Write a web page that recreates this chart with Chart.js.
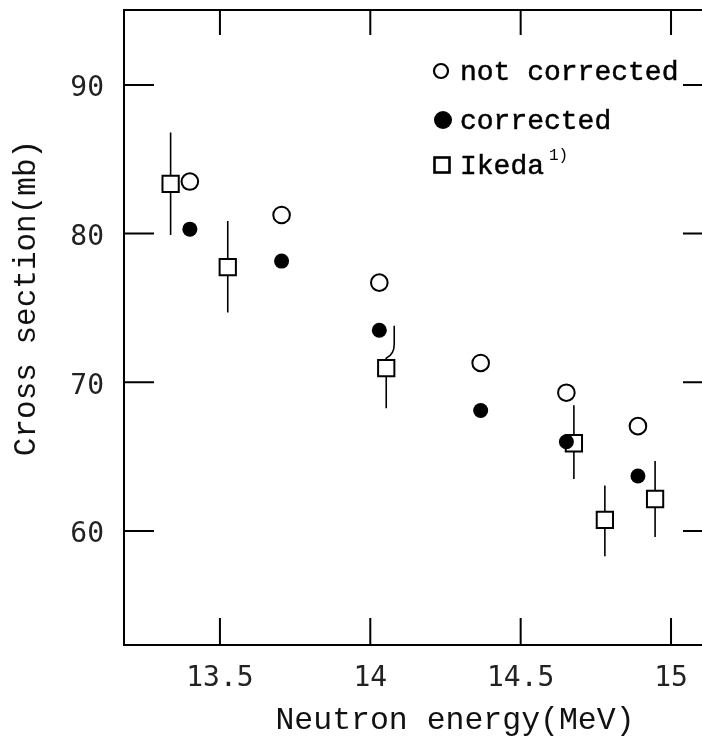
<!DOCTYPE html>
<html>
<head>
<meta charset="utf-8">
<script src="https://cdn.jsdelivr.net/npm/chart.js@4.4.1/dist/chart.umd.min.js"></script>
<style>
    * {
        margin: 0;
        padding: 0;
    }

    body {
        background: #fff;
        width: 702px;
        height: 746px;
        overflow: hidden;
    }

    #wrap {
        width: 702px;
        height: 746px;
    }
</style>
</head>
<body>
<div id="wrap"><canvas id="xsChart"></canvas></div>
<script>
//  D A T A  //
// this work: neutron energy (MeV) and cross section (mb)
const energies = [13.40, 13.705, 14.03, 14.367, 14.652, 14.89];
const notCorrected = [83.5, 81.25, 76.7, 71.3, 69.3, 67.05];
const corrected = [80.3, 78.15, 73.5, 68.1, 66.0, 63.7];

// Ikeda values with error bar ends
const ikedaEnergies = [13.336, 13.526, 14.053, 14.677, 14.78, 14.947];
const ikedaValues = [83.35, 77.75, 70.95, 65.9, 60.75, 62.15];
const ikedaLow = [79.9, 74.7, 68.25, 63.5, 58.3, 59.6];
const ikedaHigh = [86.8, 80.85, 73.8, 68.45, 63.05, 64.7];
// the upper bar of the third point is drawn bent off to the side
const ikedaBend = [0, 0, 8, 0, 0, 0];

const xTicks = [13.5, 14, 14.5, 15];
const yTicks = [60, 70, 80, 90];

const xTitle = "Neutron energy(MeV)";
const yTitle = "Cross section(mb)";

const legendRows = [
    { label: "not corrected", sup: "" },
    { label: "corrected", sup: "" },
    { label: "Ikeda", sup: "1)" }
];


const monoSerif = "'Liberation Mono', 'Courier New', monospace";
const tickFont = { family: "'DejaVu Sans Mono', monospace", size: 28, lineHeight: 1.2 };


//  P O I N T   H E L P E R S  //
const toPoints = (xs, ys) => xs.map((x, i) => ({ x: x, y: ys[i] }));

// keep the plot box exactly where it belongs, no label padding
function fixBox(size) {
    return s => {
        if (s.isHorizontal()) s.height = size; else s.width = size;
        s.paddingTop = 0;
        s.paddingBottom = 0;
        s.paddingLeft = 0;
        s.paddingRight = 0;
    };
}


//  F R A M E ,  T I C K S ,  E R R O R   B A R S  //
const framePlugin = {
    id: "frame",
    beforeDatasetsDraw(chart) {
        const { ctx, chartArea: a, scales } = chart;
        const sx = scales.x, sy = scales.y;
        ctx.save();
        ctx.strokeStyle = "#000";
        ctx.lineWidth = 2;
        ctx.lineCap = "butt";

        // box: top, left, bottom
        ctx.beginPath();
        ctx.moveTo(a.right, a.top);
        ctx.lineTo(a.left, a.top);
        ctx.lineTo(a.left, a.bottom);
        ctx.lineTo(a.right, a.bottom);
        ctx.stroke();

        // inward ticks
        ctx.beginPath();
        xTicks.forEach(v => {
            const px = sx.getPixelForValue(v);
            ctx.moveTo(px, a.bottom);
            ctx.lineTo(px, a.bottom - 27);
            ctx.moveTo(px, a.top);
            ctx.lineTo(px, a.top + 25);
        });
        yTicks.forEach(v => {
            const py = sy.getPixelForValue(v);
            ctx.moveTo(a.left, py);
            ctx.lineTo(a.left + 30, py);
            ctx.moveTo(a.right, py);
            ctx.lineTo(a.right - 19, py);
        });
        ctx.stroke();

        // Ikeda error bars
        ctx.lineWidth = 1.6;
        ctx.beginPath();
        ikedaEnergies.forEach((e, i) => {
            const px = sx.getPixelForValue(e);
            const pyMid = sy.getPixelForValue(ikedaValues[i]);
            const pyLo = sy.getPixelForValue(ikedaLow[i]);
            const pyHi = sy.getPixelForValue(ikedaHigh[i]);
            ctx.moveTo(px, pyLo);
            ctx.lineTo(px, pyMid);
            if (ikedaBend[i]) {
                const bx = px + ikedaBend[i];
                ctx.lineTo(px, pyMid - 10);
                ctx.quadraticCurveTo(bx, pyMid - 14, bx, pyMid - 24);
                ctx.lineTo(bx, pyHi);
            } else {
                ctx.lineTo(px, pyHi);
            }
        });
        ctx.stroke();
        ctx.restore();
    }
};


//  A X I S   T I T L E S  //
// drawn by hand: both sit a little off the centre of their axis
const titlePlugin = {
    id: "axisTitles",
    afterDraw(chart) {
        const { ctx } = chart;
        ctx.save();
        ctx.fillStyle = "#111";
        ctx.textAlign = "center";
        ctx.textBaseline = "middle";

        ctx.font = "31.5px " + monoSerif;
        ctx.fillText(xTitle, 455, 721);

        ctx.translate(27, 298);
        ctx.rotate(-Math.PI / 2);
        ctx.font = "31px " + monoSerif;
        ctx.fillText(yTitle, 0, 0);
        ctx.restore();
    }
};


//  L E G E N D   I N S I D E   T H E   B O X  //
const legendPlugin = {
    id: "innerLegend",
    afterDraw(chart) {
        const { ctx } = chart;
        const markerX = 441;
        const textX = 460;
        const rows = [71, 120, 165];
        ctx.save();
        ctx.strokeStyle = "#000";
        ctx.fillStyle = "#000";
        ctx.lineWidth = 2.2;

        // open circle
        ctx.beginPath();
        ctx.arc(markerX, rows[0], 7, 0, Math.PI * 2);
        ctx.stroke();

        // filled circle
        ctx.beginPath();
        ctx.arc(markerX + 2, rows[1], 9, 0, Math.PI * 2);
        ctx.fill();

        // square
        ctx.lineWidth = 2.6;
        ctx.strokeRect(markerX - 6.5, rows[2] - 7.5, 15, 15);

        ctx.font = "28px " + monoSerif;
        ctx.textBaseline = "alphabetic";
        ctx.textAlign = "left";
        ctx.lineWidth = 0.5;
        legendRows.forEach((row, i) => {
            const base = rows[i] + 9;
            ctx.fillText(row.label, textX, base);
            ctx.strokeText(row.label, textX, base);
            if (row.sup) {
                const w = ctx.measureText(row.label).width;
                ctx.save();
                ctx.font = "16px " + monoSerif;
                ctx.fillText(row.sup, textX + w + 5, base - 14);
                ctx.restore();
            }
        });
        ctx.restore();
    }
};


//  C H A R T  //
const ctx = document.getElementById("xsChart").getContext("2d");

new Chart(ctx, {
    type: "scatter",
    data: {
        datasets: [
            {
                label: "corrected",
                data: toPoints(energies, corrected),
                pointStyle: "circle",
                pointRadius: 7.5,
                pointBorderWidth: 0,
                backgroundColor: "#000",
                borderColor: "#000"
            },
            {
                label: "not corrected",
                data: toPoints(energies, notCorrected),
                pointStyle: "circle",
                pointRadius: 8.3,
                pointBorderWidth: 2,
                backgroundColor: "#fff",
                borderColor: "#000"
            },
            {
                label: "Ikeda",
                data: toPoints(ikedaEnergies, ikedaValues),
                pointStyle: "rect",
                pointRadius: 11.5,
                pointBorderWidth: 2,
                backgroundColor: "#fff",
                borderColor: "#000"
            }
        ]
    },
    options: {
        responsive: true,
        maintainAspectRatio: false,
        animation: false,
        events: [],
        layout: {
            autoPadding: false,
            padding: { top: 10, right: 0, left: 0, bottom: 0 }
        },
        plugins: {
            legend: { display: false },
            tooltip: { enabled: false }
        },
        scales: {
            x: {
                type: "linear",
                min: 13.181,
                max: 15.103,
                afterBuildTicks: s => { s.ticks = xTicks.map(v => ({ value: v })); },
                afterFit: fixBox(101),
                grid: { display: false, drawTicks: false },
                border: { display: false },
                ticks: {
                    font: tickFont,
                    color: "#222",
                    padding: 17,
                    maxRotation: 0,
                    autoSkip: false,
                    callback: v => String(v)
                },
                title: { display: false }
            },
            y: {
                type: "linear",
                min: 52.33,
                max: 95.04,
                afterBuildTicks: s => { s.ticks = yTicks.map(v => ({ value: v })); },
                afterFit: fixBox(124),
                grid: { display: false, drawTicks: false },
                border: { display: false },
                ticks: {
                    font: tickFont,
                    color: "#222",
                    padding: 20,
                    labelOffset: 4,
                    autoSkip: false,
                    callback: v => String(v)
                },
                title: { display: false }
            }
        }
    },
    plugins: [framePlugin, titlePlugin, legendPlugin]
});
</script>
</body>
</html>
